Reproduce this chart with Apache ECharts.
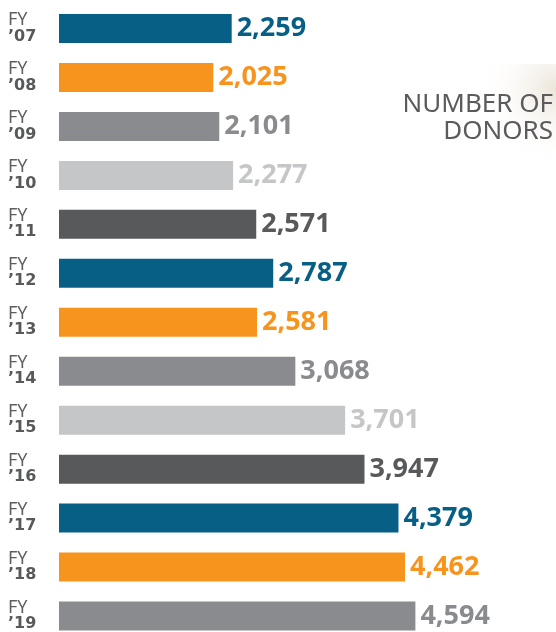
<!DOCTYPE html>
<html><head><meta charset="utf-8">
<script src="https://cdn.jsdelivr.net/npm/echarts@6/dist/echarts.min.js"></script>
<style>html,body{margin:0;padding:0;background:#fff}#c{width:556px;height:632px}</style>
</head><body><div id="c"></div>
<script>
const years = ["'07","'08","'09","'10","'11","'12","'13","'14","'15","'16","'17","'18","'19"];
const donors = [2259,2025,2101,2277,2571,2787,2581,3068,3701,3947,4379,4462,4594];
const palette = ['#075f86','#f7941e','#8a8b8e','#c5c6c8','#58595b'];
const titleLines = ['NUMBER OF','DONORS'];

const chart = echarts.init(document.getElementById('c'));
chart.setOption({
  animation:false,
  backgroundColor:'#ffffff',
  graphic:[
    {type:'rect', z:-10, shape:{x:380,y:64,width:176,height:102},
     style:{fill:{type:'radial',x:1,y:0.25,r:0.75,colorStops:[{offset:0,color:'rgba(232,224,210,0.85)'},{offset:1,color:'rgba(255,255,255,0)'}]}}},
    {type:'text', right:3, top:92, style:{text:titleLines[0], font:'normal 26px "Noto Sans"', fill:'#5b5b5d'}},
    {type:'text', right:3, top:119, style:{text:titleLines[1], font:'normal 26px "Noto Sans"', fill:'#5b5b5d'}}
  ],
  grid:{left:59, top:28.5, width:467, height:590, containLabel:false},
  xAxis:{type:'value', min:64, max:6000, show:false},
  yAxis:{type:'category', inverse:true, data:years, boundaryGap:false,
    axisLine:{show:false}, axisTick:{show:false}, splitLine:{show:false},
    axisLabel:{align:'left', margin:51, interval:0,
      formatter:function(v){return '{a|FY}\n{b|'+v.replace("'","\u2019")+'}';},
      rich:{a:{fontFamily:'Noto Sans', fontSize:18, fontWeight:'normal', color:'#5f5f61', lineHeight:16},
            b:{fontFamily:'DejaVu Sans', fontSize:16, fontWeight:'bold', color:'#58595b', lineHeight:17}}}
  },
  series:[{type:'bar', data:donors.map((v,i)=>({value:v, itemStyle:{color:palette[i%5]}, label:{color:palette[i%5]}})),
    barWidth:29,
    label:{show:true, position:'right', distance:5, fontFamily:'Open Sans', fontWeight:'bold', fontSize:27,
      formatter:p=>p.value.toLocaleString('en-US')}
  }]
});
</script></body></html>
